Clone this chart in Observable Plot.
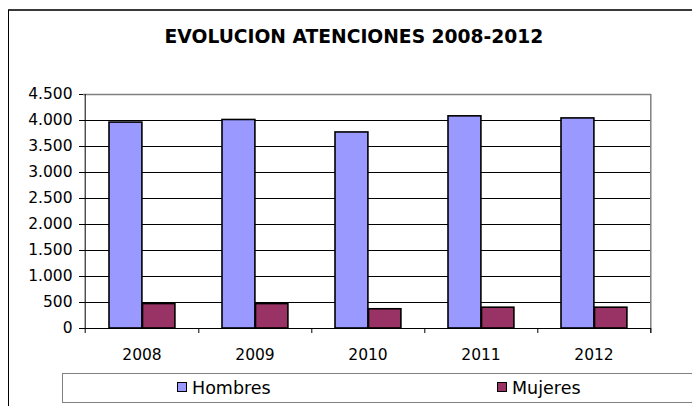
<!DOCTYPE html>
<html>
<head>
<meta charset="utf-8">
<script src="https://cdn.jsdelivr.net/npm/d3@7"></script>
<script src="https://cdn.jsdelivr.net/npm/@observablehq/plot@0.6"></script>
<style>
  body { margin: 0; background: #fff; }
  #wrap { position: relative; width: 692px; height: 406px; overflow: hidden; background: #fff; font-family: "DejaVu Sans", Verdana, sans-serif; }
  #topline { position: absolute; left: 8px; top: 9px; width: 700px; height: 2px; background: #3a3a3a; }
  #leftline { position: absolute; left: 7.5px; top: 10px; width: 1.5px; height: 400px; background: #000; }
  #title { position: absolute; left: 8px; width: 692px; top: 27px; text-align: center; font-weight: bold; font-size: 18.7px; line-height: 19px; color: #000; }
  #chart { position: absolute; left: 0; top: 0; }
  #legend { position: absolute; left: 62px; top: 373px; width: 700px; height: 28px; border: 1px solid #808080; background: #fff; }
  .item { position: absolute; top: 0; height: 28px; font-size: 17.5px; line-height: 28px; color: #000; white-space: nowrap; }
  .sw { position: absolute; top: 8px; width: 8px; height: 8px; border: 1px solid #000; }
</style>
</head>
<body>
<div id="wrap">
  <div id="topline"></div>
  <div id="leftline"></div>
  <div id="title">EVOLUCION ATENCIONES 2008-2012</div>
  <div id="chart"></div>
  <div id="legend"></div>
</div>
<script>
const years = ["2008", "2009", "2010", "2011", "2012"];
const hombres = [3960, 4010, 3770, 4080, 4040];
const mujeres = [470, 470, 370, 400, 400];
const series = ["Hombres", "Mujeres"];
const colors = ["#9999FF", "#993366"];
const yTicks = [0, 500, 1000, 1500, 2000, 2500, 3000, 3500, 4000, 4500];

const data = years.map((y, i) => ({year: y, hombres: hombres[i], mujeres: mujeres[i]}));

const W = 692, H = 406, mL = 83, mR = 41, mT = 94, mB = 78;
const bw = (W - mL - mR) / years.length;
const fmt = d => d3.format(",")(d).replace(/,/g, ".");

const chart = Plot.plot({
  width: W, height: H,
  marginLeft: mL, marginRight: mR, marginTop: mT, marginBottom: mB,
  style: {fontFamily: "'DejaVu Sans', Verdana, sans-serif", background: "transparent", color: "#000"},
  x: {domain: years, padding: 0, label: null},
  y: {domain: [0, 4500], label: null},
  marks: [
    Plot.ruleY(yTicks.slice(1, -1), {stroke: "#000", strokeWidth: 1}),
    Plot.ruleY([4500], {stroke: "#808080", strokeWidth: 1.5}),
    Plot.ruleX([years[years.length - 1]], {x: d => d, dx: bw / 2, stroke: "#808080", strokeWidth: 1.5, insetBottom: -5}),
    Plot.barY(data, {x: "year", y: "hombres", fill: colors[0], stroke: "#000", strokeWidth: 1.6, insetLeft: 24, insetRight: bw - 24 - 33.5}),
    Plot.barY(data, {x: "year", y: "mujeres", fill: colors[1], stroke: "#000", strokeWidth: 1.6, insetLeft: 57.5, insetRight: bw - 57.5 - 33}),
    Plot.ruleY([0], {stroke: "#000", strokeWidth: 1}),
    Plot.ruleX([years[0]], {x: d => d, dx: -bw / 2, stroke: "#000", strokeWidth: 1, insetBottom: -5}),
    Plot.axisX({tickSize: 5, dx: bw / 2, tickFormat: () => "", stroke: "#000", label: null}),
    Plot.axisX({tickSize: 0, tickPadding: 20, fontSize: 15.5, fill: "#000", label: null}),
    Plot.axisY({ticks: yTicks, tickSize: 4, tickPadding: 7, tickFormat: fmt, fontSize: 15.5, fill: "#000", stroke: "#000", label: null})
  ]
});
document.getElementById("chart").appendChild(chart);

const legend = document.getElementById("legend");
const itemX = [114, 434];
series.forEach((s, i) => {
  const it = document.createElement("div");
  it.className = "item";
  it.style.left = itemX[i] + "px";
  const sw = document.createElement("div");
  sw.className = "sw";
  sw.style.left = "0px";
  sw.style.background = colors[i];
  const tx = document.createElement("span");
  tx.textContent = s;
  tx.style.marginLeft = "15px";
  it.appendChild(sw);
  it.appendChild(tx);
  legend.appendChild(it);
});
</script>
</body>
</html>
